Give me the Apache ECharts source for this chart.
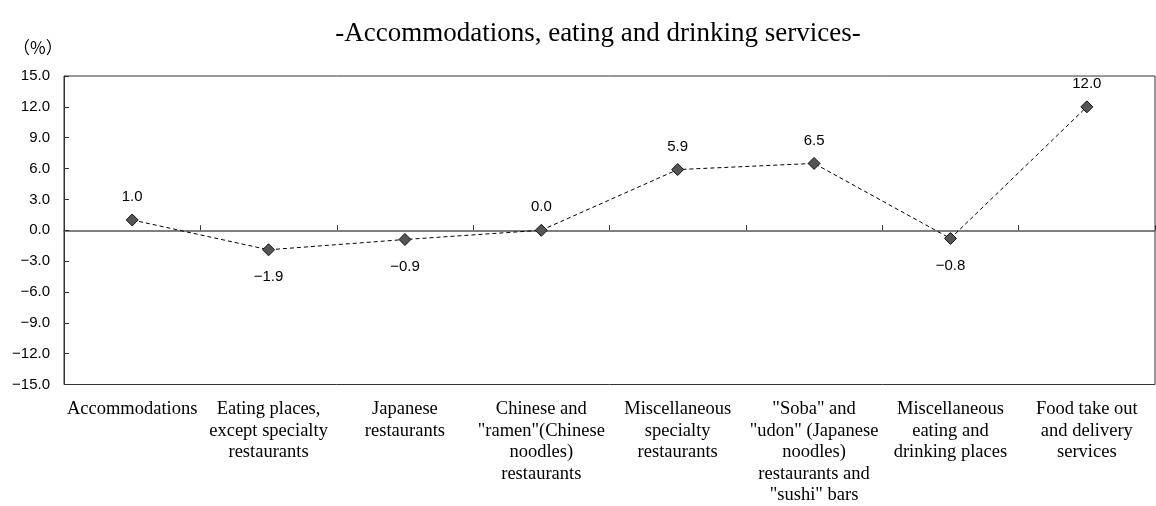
<!DOCTYPE html>
<html>
<head>
<meta charset="utf-8">
<script src="https://cdn.jsdelivr.net/npm/echarts@6/dist/echarts.min.js"></script>
<style>
  html, body { margin: 0; padding: 0; background: #fff; }
  #chart { width: 1156px; height: 506px; }
</style>
</head>
<body>
<div id="chart"></div>
<script>
// categories (line breaks as in the original)
const categories = [
  'Accommodations',
  'Eating places,\nexcept specialty\nrestaurants',
  'Japanese\nrestaurants',
  'Chinese and\n"ramen"(Chinese\nnoodles)\nrestaurants',
  'Miscellaneous\nspecialty\nrestaurants',
  '"Soba" and\n"udon" (Japanese\nnoodles)\nrestaurants and\n"sushi" bars',
  'Miscellaneous\neating and\ndrinking places',
  'Food take out\nand delivery\nservices'
]

// percent change
const values = [1.0, -1.9, -0.9, 0.0, 5.9, 6.5, -0.8, 12.0]

// where each value label sits
const labelSide = ['top', 'bottom', 'bottom', 'top', 'top', 'top', 'bottom', 'top']

const yMin = -15
const yMax = 15
const yStep = 3

const minus = s => s.replace('-', '\u2212')

const chart = echarts.init(document.getElementById('chart'))

const option = {
  animation: false,
  title: [
    {
      text: '-Accommodations, eating and drinking services-',
      left: 593,
      textAlign: 'center',
      top: 15,
      textStyle: { fontFamily: 'Liberation Serif', fontSize: 27, fontWeight: 'normal', color: '#000' }
    },
    {
      text: '（%）',
      left: 8,
      top: 34,
      textStyle: { fontFamily: 'Noto Sans CJK JP', fontSize: 17, fontWeight: 'normal', color: '#000' }
    }
  ],
  grid: {
    left: 64,
    right: 1,
    top: 76,
    bottom: 121,
    show: true,
    borderColor: '#333',
    borderWidth: 1
  },
  xAxis: [
    {
      type: 'category',
      data: categories,
      position: 'bottom',
      axisLine: { show: false, onZero: false },
      axisTick: { show: false },
      axisLabel: {
        interval: 0,
        margin: 14,
        color: '#000',
        fontFamily: 'Liberation Serif',
        fontSize: 18.5,
        lineHeight: 21.5
      }
    },
    {
      type: 'category',
      data: categories,
      position: 'bottom',
      axisLine: { show: true, onZero: true, lineStyle: { color: '#555', width: 1.5 } },
      axisTick: { show: true, inside: true, length: 5, lineStyle: { color: '#333' } },
      axisLabel: { show: false }
    }
  ],
  yAxis: {
    type: 'value',
    min: yMin,
    max: yMax,
    interval: yStep,
    axisLine: { show: true, lineStyle: { color: '#333' } },
    axisTick: { show: true, inside: true, length: 5, lineStyle: { color: '#333' } },
    splitLine: { show: false },
    axisLabel: {
      margin: 14,
      color: '#000',
      fontFamily: 'Liberation Sans',
      fontSize: 15,
      formatter: v => minus(v.toFixed(1))
    }
  },
  series: [
    {
      type: 'line',
      xAxisIndex: 0,
      data: values.map((v, i) => ({
        value: v,
        label: { position: labelSide[i], distance: labelSide[i] === 'top' ? 9 : 13 }
      })),
      symbol: 'diamond',
      symbolSize: 12,
      lineStyle: { color: '#000', width: 1, type: [4, 3] },
      itemStyle: { color: '#555', borderColor: '#111', borderWidth: 1 },
      label: {
        show: true,
        color: '#000',
        fontFamily: 'Liberation Sans',
        fontSize: 15,
        formatter: p => minus(p.value.toFixed(1))
      }
    }
  ]
}

chart.setOption(option)
</script>
</body>
</html>
